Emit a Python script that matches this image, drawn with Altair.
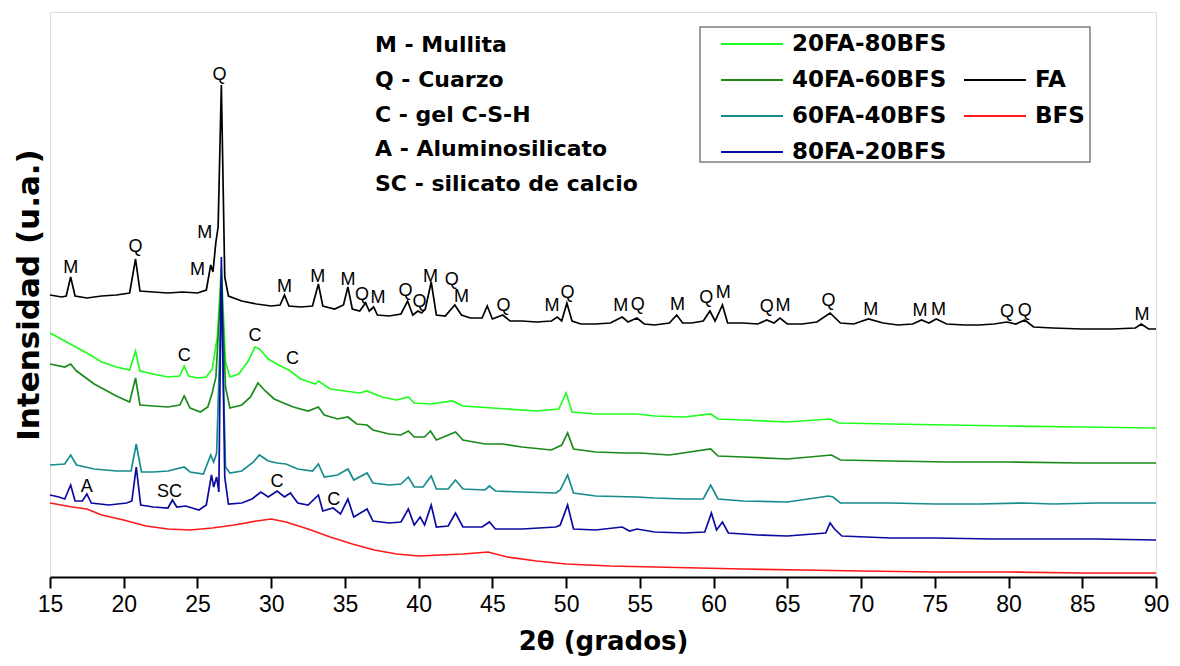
import altair as alt
import pandas as pd

# ---------------- data (2-theta in degrees, intensity in arbitrary units) ----------------
FA = [(15.0, 282), (15.8, 280), (16.1, 281), (16.4, 300), (16.7, 281), (17.5, 279), (18.5, 281),
      (19.5, 282), (20.4, 284), (20.8, 318), (21.1, 286), (22, 285), (23, 284), (24, 285), (25, 284),
      (25.6, 287), (25.9, 312), (26.05, 305), (26.25, 335), (26.4, 350), (26.62, 492), (26.85, 300),
      (27.1, 281), (28, 276), (29, 273), (30, 271), (30.6, 272), (30.9, 282), (31.2, 271), (32, 270),
      (32.8, 271), (33.2, 293), (33.5, 271), (34.3, 268), (34.9, 272), (35.2, 290), (35.5, 268),
      (36.0, 266), (36.4, 274), (36.65, 266), (36.95, 270), (37.2, 262), (38, 261), (38.8, 263),
      (39.25, 276), (39.6, 262), (39.95, 266), (40.2, 264), (40.45, 268), (40.85, 295), (41.2, 262),
      (41.8, 261), (42.45, 272), (42.9, 262), (43.5, 259), (44.3, 259), (44.65, 271), (45.0, 258),
      (45.7, 262), (46.2, 256), (47, 256), (48, 255), (49, 256), (49.4, 260), (49.7, 256),
      (50.05, 274), (50.4, 256), (51, 253), (52, 253), (53, 254), (53.8, 260), (54.2, 255),
      (54.8, 259), (55.3, 253), (56, 252), (57, 254), (57.5, 262), (57.9, 254), (58.5, 254),
      (59.3, 256), (59.75, 266), (60.1, 256), (60.6, 272), (60.95, 254), (62, 254), (63, 253),
      (63.6, 257), (64.1, 254), (64.5, 259), (65, 253), (66, 253), (67, 255), (67.9, 264),
      (68.6, 254), (69.5, 253), (70.5, 258), (71.5, 254), (72.5, 252), (73.5, 253), (74.1, 257),
      (74.6, 254), (75.1, 258), (75.8, 253), (77, 252), (78, 252), (79, 253), (79.9, 255),
      (80.5, 253), (81.1, 257), (81.7, 250), (83, 249), (85, 248), (87, 248), (88.6, 249),
      (89.0, 253), (89.5, 248), (90.0, 248)]

S20FA = [(15.0, 244), (15.5, 240), (16.5, 232), (17.5, 224), (18.5, 215), (19.5, 210), (20.4, 207),
         (20.8, 226), (21.1, 206), (22, 203), (23, 200), (23.8, 201), (24.1, 211), (24.4, 201),
         (25, 199), (25.6, 200), (26.0, 208), (26.35, 240), (26.62, 309), (26.9, 215), (27.2, 200),
         (27.8, 203), (28.4, 215), (28.9, 230), (29.2, 228), (29.8, 218), (30.5, 212), (31.2, 207),
         (32, 198), (33.0, 193), (33.2, 196), (34, 188), (35, 186), (36.0, 184), (36.5, 186),
         (37.5, 180), (38.5, 177), (39.3, 180), (39.7, 174), (40.8, 173), (42.3, 176), (43, 171),
         (45, 169), (46, 168), (48, 166), (49.5, 168), (50.0, 184), (50.4, 165), (52, 163),
         (54.8, 163), (56, 161), (58, 160), (59.8, 163), (60.3, 158), (62, 157), (65, 155),
         (67.9, 158), (68.5, 154), (72, 153), (76, 152), (80, 151), (85, 150), (90, 149)]

S40FA = [(15.0, 213), (16.0, 210), (16.4, 213), (16.8, 206), (18, 193), (19.5, 181), (20.4, 175),
         (20.8, 199), (21.1, 172), (22, 171), (23, 170), (23.8, 172), (24.1, 181), (24.5, 169),
         (25.2, 165), (25.7, 170), (26.0, 184), (26.25, 200), (26.62, 300), (26.9, 190), (27.2, 169),
         (28, 172), (28.6, 180), (29.1, 194), (29.6, 186), (30.2, 178), (31.0, 173), (31.5, 170),
         (32.5, 166), (33.2, 170), (33.6, 162), (34.5, 158), (35.2, 160), (35.8, 153), (36.5, 152),
         (36.9, 147), (38, 143), (38.8, 142), (39.3, 146), (39.7, 140), (40.4, 140), (40.8, 146),
         (41.2, 137), (42.5, 145), (43, 137), (44.5, 133), (45.7, 133), (47, 130), (49, 127),
         (49.7, 132), (50.1, 144), (50.5, 128), (52, 125), (54, 124), (55, 124), (57, 122),
         (59.8, 128), (60.3, 121), (62, 120), (65, 118), (68, 122), (68.6, 117), (72, 116),
         (76, 115), (80, 115), (85, 114), (90, 114)]

S60FA = [(15.0, 112), (16.0, 113), (16.4, 122), (16.8, 112), (18, 108), (19.5, 106), (20.5, 106),
         (20.85, 133), (21.2, 105), (22, 105), (23, 106), (24.1, 110), (24.5, 105), (25.4, 103),
         (25.9, 122), (26.1, 115), (26.3, 124), (26.62, 280), (26.9, 110), (27.2, 104), (28, 106),
         (28.8, 115), (29.2, 122), (29.8, 116), (30.4, 114), (31.0, 113), (31.8, 108), (32.8, 106),
         (33.2, 113), (33.6, 100), (34.5, 102), (35.2, 108), (35.6, 97), (36.5, 104), (36.9, 94),
         (38, 92), (38.8, 93), (39.3, 100), (39.7, 90), (40.3, 90), (40.85, 101), (41.2, 88),
         (42.0, 88), (42.5, 97), (43, 88), (44.5, 87), (44.8, 91), (45.2, 86), (47, 85), (49.3, 84),
         (49.6, 87), (50.1, 102), (50.5, 84), (52, 81), (54.8, 80), (56, 79), (58, 78), (59.3, 78),
         (59.8, 92), (60.3, 78), (62, 76), (65, 75), (67.8, 81), (68.1, 80), (68.6, 74), (72, 74),
         (75, 73), (78, 73), (81, 74), (83, 73), (86, 74), (90, 74)]

S80FA = [(15.0, 82), (15.6, 80), (16.0, 78), (16.4, 92), (16.7, 76), (17.2, 76), (17.5, 83),
         (17.8, 74), (19, 72), (20.2, 74), (20.55, 76), (20.85, 110), (21.15, 72), (22, 70),
         (23.0, 69), (23.3, 77), (23.6, 70), (24.2, 71), (25.1, 67), (25.6, 72), (25.95, 102),
         (26.1, 90), (26.3, 100), (26.45, 85), (26.62, 320), (26.85, 100), (27.1, 73), (28, 74),
         (28.7, 78), (29.3, 85), (29.8, 80), (30.4, 86), (30.9, 80), (31.3, 84), (31.8, 74),
         (32.5, 72), (33.2, 82), (33.5, 66), (34.2, 69), (34.7, 63), (35.2, 78), (35.6, 60),
         (36.5, 68), (36.9, 56), (38, 54), (38.8, 55), (39.3, 68), (39.7, 52), (40.1, 60),
         (40.4, 52), (40.85, 72), (41.2, 50), (42.0, 51), (42.5, 64), (43, 50), (44.3, 50),
         (44.8, 55), (45.2, 48), (47, 48), (49.3, 50), (49.6, 52), (50.1, 72), (50.5, 48), (52, 47),
         (53.8, 50), (54.3, 46), (54.8, 48), (56, 45), (58, 44), (59.4, 45), (59.85, 64),
         (60.2, 47), (60.6, 55), (61, 44), (63, 42), (65, 41), (67.6, 44), (67.9, 54), (68.2, 48),
         (68.7, 41), (72, 39), (75, 39), (79, 38), (83, 38), (86, 38), (90, 37)]

BFS = [(15.0, 74), (16.5, 70), (17.5, 68), (18.5, 62), (20, 57), (21.5, 51), (23, 48), (24.5, 47),
       (26, 49), (27.5, 52), (29, 56), (30, 58), (31, 55), (32.5, 48), (34, 40), (35.5, 33),
       (37, 27), (38.5, 23), (40, 21), (41.5, 22), (43, 23), (44.7, 25), (46, 20), (48, 16),
       (50, 13), (53, 11), (56, 10), (59, 9), (62, 8), (66, 7), (70, 6), (75, 5), (80, 5),
       (85, 4), (90, 4)]

MIX_NAMES = ["20FA-80BFS", "40FA-60BFS", "60FA-40BFS", "80FA-20BFS"]
MIX_COLORS = ["#1eff1e", "#1a8a1a", "#168c8c", "#0a0aa0"]
REF_NAMES = ["FA", "BFS"]
REF_COLORS = ["#000000", "#ff1a1a"]

# peak labels: (phase letter, 2-theta, intensity)
PEAK_LABELS = [("M", 16.4, 309), ("Q", 20.8, 330), ("M", 25.5, 344), ("M", 25.0, 307),
               ("Q", 26.5, 502), ("M", 30.9, 290), ("M", 33.15, 300), ("M", 35.2, 297),
               ("Q", 36.15, 282), ("M", 37.25, 279), ("Q", 39.1, 286), ("Q", 40.05, 275),
               ("M", 40.8, 300), ("Q", 42.25, 297), ("M", 42.9, 280), ("Q", 45.75, 271),
               ("M", 49.05, 271), ("Q", 50.1, 284), ("M", 53.7, 271), ("Q", 54.85, 272),
               ("M", 57.55, 272), ("Q", 59.5, 279), ("M", 60.65, 284), ("Q", 63.6, 270),
               ("M", 64.7, 271), ("Q", 67.8, 276), ("M", 70.65, 267), ("M", 74.0, 266),
               ("M", 75.25, 267), ("Q", 79.9, 265), ("Q", 81.1, 266), ("M", 89.05, 262),
               ("C", 24.1, 221), ("C", 28.9, 241), ("C", 31.45, 218),
               ("A", 17.5, 90), ("SC", 23.1, 85), ("C", 30.4, 95), ("C", 34.25, 77)]

PHASE_KEY = ["M - Mullita", "Q - Cuarzo", "C - gel C-S-H", "A - Aluminosilicato",
             "SC - silicato de calcio"]

X_TICKS = list(range(15, 91, 5))

# ---------------- tables ----------------
def frame(name, pts, order):
    return pd.DataFrame({"serie": name, "x": [p[0] for p in pts], "y": [p[1] for p in pts],
                         "o": list(range(len(pts))), "k": order})

mix_df = pd.concat([frame(n, s, i) for i, (n, s) in
                    enumerate(zip(MIX_NAMES, [S20FA, S40FA, S60FA, S80FA]))])
fa_df = frame("FA", FA, 0)
bfs_df = frame("BFS", BFS, 1)
lab_df = pd.DataFrame(PEAK_LABELS, columns=["t", "x", "y"])

W, H = 1106, 565
xs = alt.Scale(domain=[15, 90], nice=False, zero=False)
ys = alt.Scale(domain=[0, H], nice=False, zero=False)

X = alt.X("x:Q", scale=xs, axis=alt.Axis(
    title="2θ (grados)", values=X_TICKS, grid=False, tickSize=11, tickWidth=2,
    tickColor="black", domainColor="black", domainWidth=2, labelFlush=False,
    labelOverlap=False, labelFont="Liberation Sans", labelFontSize=23,
    labelColor="black", labelPadding=5, titleFont="DejaVu Sans", titleFontSize=26,
    titleFontWeight="bold", titleColor="black", titlePadding=12))
Y = alt.Y("y:Q", scale=ys, axis=alt.Axis(
    title="Intensidad (u.a.)", labels=False, ticks=False, domain=False, grid=False,
    titleFont="DejaVu Sans", titleFontSize=31, titleFontWeight="bold",
    titleColor="black", titlePadding=5))

def leg(x, y):
    return alt.Legend(title=None, orient="none", legendX=x, legendY=y, symbolType="stroke",
                      symbolSize=3844, symbolStrokeWidth=2, labelFont="DejaVu Sans",
                      labelFontWeight="bold", labelFontSize=23, labelColor="black",
                      labelOffset=8, clipHeight=36, rowPadding=0, padding=0, labelLimit=400)

stroke_ref = alt.Stroke("serie:N", scale=alt.Scale(domain=REF_NAMES, range=REF_COLORS),
                        legend=leg(913, 50))

bfs_layer = alt.Chart(bfs_df).mark_line(strokeWidth=1.7).encode(
    x=X, y=Y, stroke=stroke_ref, order="o:Q")

mix_layer = alt.Chart(mix_df).mark_line(strokeWidth=1.7).encode(
    x=X, y=Y,
    color=alt.Color("serie:N", scale=alt.Scale(domain=MIX_NAMES, range=MIX_COLORS),
                    legend=leg(670, 14)),
    detail="serie:N", order="o:Q")

fa_layer = alt.Chart(fa_df).mark_line(strokeWidth=1.7).encode(
    x=X, y=Y, stroke=stroke_ref, order="o:Q")

labels = alt.Chart(lab_df).mark_text(font="Liberation Sans", fontSize=18, color="black",
                                     baseline="middle", align="center").encode(
    x=alt.X("x:Q", scale=xs), y=alt.Y("y:Q", scale=ys), text="t:N")

one = pd.DataFrame({"a": [0]})
key_text = alt.Chart(one).mark_text(text=PHASE_KEY, font="DejaVu Sans", fontSize=22,
                                    fontWeight="bold", color="black", align="left",
                                    baseline="top", lineHeight=34.8).encode(
    x=alt.value(325), y=alt.value(23))

legend_box = alt.Chart(one).mark_rect(fillOpacity=0, stroke="#808080", strokeWidth=1.5).encode(
    x=alt.value(650), x2=alt.value(1040), y=alt.value(15), y2=alt.value(150))

chart = alt.layer(bfs_layer, mix_layer, fa_layer, labels, key_text, legend_box).properties(
    width=W, height=H,
    autosize=alt.AutoSizeParams(type="none"),
    padding={"left": 42, "top": 4, "right": 16, "bottom": 81},
).configure_view(stroke="black", strokeWidth=2).configure(background="white")

chart.save("out.html", embed_options={"renderer": "svg", "actions": False})
